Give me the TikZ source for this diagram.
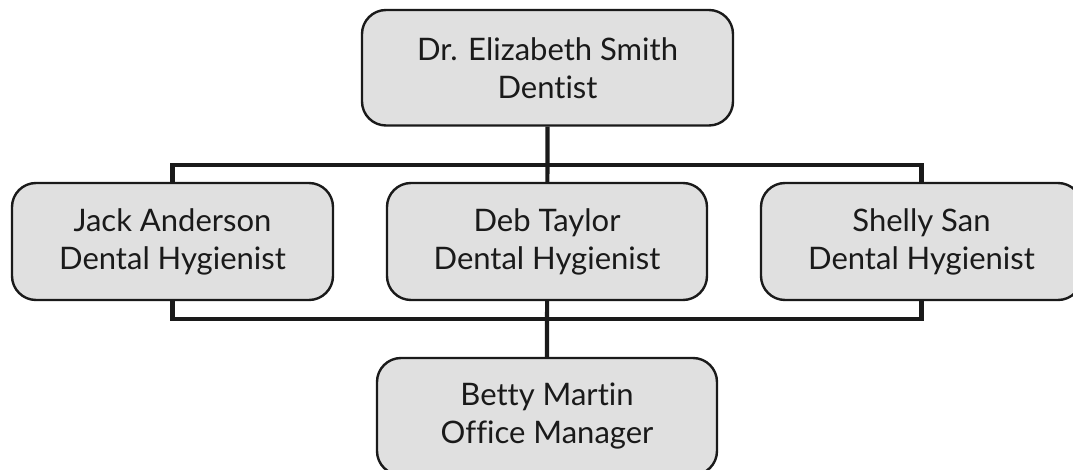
\documentclass[tikz,border=0pt]{standalone}
\usepackage{fontspec}
\setmainfont{Lato}[Ligatures=NoCommon]
\usetikzlibrary{positioning,backgrounds}
\definecolor{cBox}{HTML}{E0E0E0}
\definecolor{cInk}{HTML}{1A1A1A}
\begin{document}
\begin{tikzpicture}[
  x=0.5pt, y=-0.5pt,
  font=\rmfamily\fontsize{15.5}{19}\selectfont,
  line join=round,
  person/.style={draw=cInk, line width=1.2pt, fill=cBox, rounded corners=12pt,
    minimum height=58.5pt, inner sep=0pt, align=center, text=cInk},
  link/.style={draw=cInk, line width=2.1pt},
]
\useasboundingbox (0,0) rectangle (1073,470);

% ---- Staff boxes ----
\node[person, minimum width=185.5pt, minimum height=57.75pt] (dentist) at (547.5,67.75)
  {Dr. Elizabeth Smith\\Dentist};
\node[person, minimum width=160pt] (deb) at (547,241.5)
  {Deb Taylor\\Dental Hygienist};
\node[person, minimum width=160.5pt] (jack) at (172.5,241.5)
  {Jack Anderson\\Dental Hygienist};
\node[person, minimum width=160.5pt] (shelly) at (921.5,241.5)
  {Shelly San\\Dental Hygienist};
\node[person, minimum width=170pt] (betty) at (547,416.5)
  {Betty Martin\\Office Manager};

% ---- Connectors (behind the boxes) ----
\begin{scope}[on background layer]
  \draw[link] (dentist.south) -- (betty.north);
  \draw[link] ([yshift=8.5pt]jack.north) rectangle ([yshift=-9pt]shelly.south);
\end{scope}

\end{tikzpicture}
\end{document}
